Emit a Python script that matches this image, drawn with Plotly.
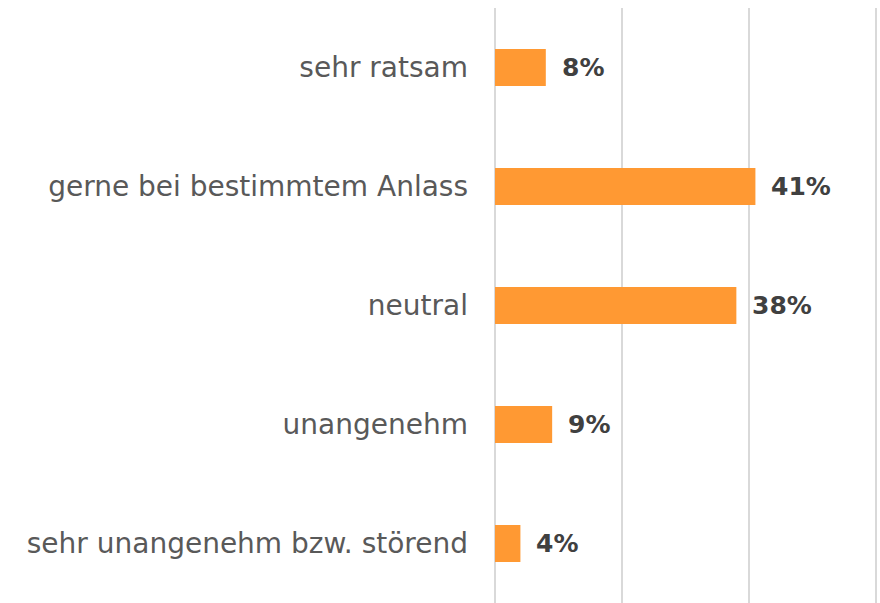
import plotly.graph_objects as go

categories = ["sehr ratsam", "gerne bei bestimmtem Anlass", "neutral", "unangenehm",
              "sehr unangenehm bzw. störend"]
values = [8, 41, 38, 9, 4]
labels = [f"{v}%" for v in values]

fig = go.Figure()
fig.add_trace(go.Bar(
    y=categories, x=values, orientation="h",
    marker=dict(color="#FF9933", line=dict(width=0)),
    width=0.31, hoverinfo="skip",
))
for c, v, t in zip(categories, values, labels):
    fig.add_annotation(x=v, y=c, text=f"<b>{t}</b>", showarrow=False,
                       xanchor="left", xshift=14,
                       font=dict(family="DejaVu Sans", size=25, color="#404040"))

fig.update_layout(
    width=880, height=603,
    margin=dict(l=495, r=2, t=8, b=0),
    plot_bgcolor="white", paper_bgcolor="white",
    showlegend=False,
    xaxis=dict(range=[0, 60.3], tickvals=[0, 20, 40, 60], showticklabels=False,
               showgrid=True, gridcolor="#d9d9d9", gridwidth=1.5,
               zeroline=True, zerolinecolor="#d9d9d9", zerolinewidth=1.5,
               showline=False),
    yaxis=dict(categoryorder="array", categoryarray=categories[::-1],
               tickfont=dict(family="DejaVu Sans", size=28, color="#595959"),
               ticklabelstandoff=26, showgrid=False, showline=False),
)
fig.write_html("out.html", config={"displayModeBar": False},
               post_script="document.body.style.margin='0';document.body.style.overflow='hidden';")
